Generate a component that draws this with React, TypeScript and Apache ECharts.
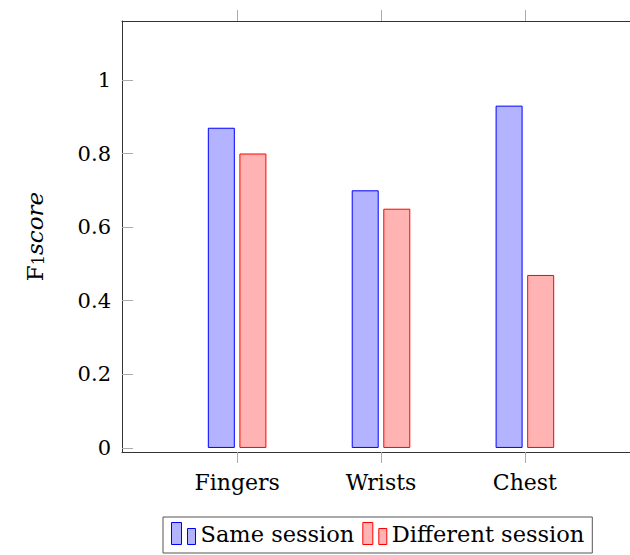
import React, { useEffect, useRef } from "react";
import * as echarts from "echarts";

const categories = ["Fingers", "Wrists", "Chest"];
const catPositions = [1, 2, 3];
const sameSession = [0.87, 0.7, 0.93];
const differentSession = [0.8, 0.65, 0.47];
const yTicks = [0, 0.2, 0.4, 0.6, 0.8, 1];
const seriesNames = ["Same session", "Different session"];

const FONT = "DejaVu Serif";
const legendIcon = "path://M0,0 H10 V22 H0 Z M16,6 H24 V22 H16 Z";

export default function App() {
  const ref = useRef<HTMLDivElement>(null);
  useEffect(() => {
    if (!ref.current) return;
    const chart = echarts.init(ref.current, null, { renderer: "svg" });
    const xBase = {
      type: "value" as const,
      min: 0.2,
      max: 3.8,
      splitLine: { show: false },
      axisLine: { show: true, onZero: false, lineStyle: { color: "#333", width: 1 } },
    };
    const yBase = {
      type: "value" as const,
      min: -0.011,
      max: 1.16,
      splitLine: { show: false },
      axisLine: { show: true, onZero: false, lineStyle: { color: "#333", width: 1 } },
    };
    chart.setOption({
      animation: false,
      backgroundColor: "#fff",
      textStyle: { fontFamily: FONT },
      grid: { left: 122, top: 21, width: 518, height: 431, outerBoundsMode: "none", containLabel: false },
      xAxis: [
        {
          ...xBase,
          position: "bottom",
          axisTick: { show: true, inside: false, length: 11, customValues: catPositions, lineStyle: { color: "#aaa" } },
          axisLabel: {
            show: true,
            customValues: catPositions,
            margin: 19,
            fontFamily: FONT,
            fontSize: 22,
            color: "#000",
            formatter: (v: number) => categories[catPositions.indexOf(Math.round(v))] ?? "",
          },
        },
        {
          ...xBase,
          position: "top",
          axisTick: { show: true, inside: false, length: 11, customValues: catPositions, lineStyle: { color: "#aaa" } },
          axisLabel: { show: false },
        },
      ],
      yAxis: [
        {
          ...yBase,
          position: "left",
          axisTick: { show: true, inside: true, length: 11, customValues: yTicks, lineStyle: { color: "#aaa" } },
          axisLabel: {
            show: true,
            customValues: yTicks,
            margin: 11,
            fontFamily: FONT,
            fontSize: 21,
            color: "#000",
            formatter: (v: number) => String(Math.round(v * 10) / 10),
          },
          name: "{a|F}{b|1}{c|score}",
          nameLocation: "middle",
          nameRotate: 90,
          nameGap: 76,
          nameTextStyle: {
            rich: {
              a: { fontFamily: FONT, fontSize: 23, color: "#000", verticalAlign: "bottom", lineHeight: 26 },
              b: { fontFamily: FONT, fontSize: 16, color: "#000", verticalAlign: "bottom", lineHeight: 20 },
              c: { fontFamily: FONT, fontSize: 23, fontStyle: "italic", color: "#000", verticalAlign: "bottom", lineHeight: 26 },
            },
          },
        },
        {
          ...yBase,
          position: "right",
          axisLine: { show: true, onZero: false, lineStyle: { color: "#333", width: 1 } },
          axisTick: { show: false },
          axisLabel: { show: false },
        },
      ],
      legend: {
        show: true,
        left: 163,
        top: 517,
        orient: "horizontal",
        padding: [5, 8, 8, 8],
        borderColor: "#555",
        borderWidth: 1,
        itemWidth: 24,
        itemHeight: 22,
        itemGap: 8,
        textStyle: { fontFamily: FONT, fontSize: 22.5, color: "#000", padding: [3, 0, 0, 0] },
        data: [
          { name: seriesNames[0], icon: legendIcon, itemStyle: { color: "#b3b3ff", borderColor: "#0000ff", borderWidth: 1 } },
          { name: seriesNames[1], icon: legendIcon, itemStyle: { color: "#ffb3b3", borderColor: "#ff0000", borderWidth: 1 } },
        ],
      },
      series: [
        {
          name: seriesNames[0],
          type: "bar",
          barWidth: 27,
          barGap: "17%",
          data: catPositions.map((x, i) => [x, sameSession[i]]),
          itemStyle: { color: "#b3b3ff", borderColor: "#0000ff", borderWidth: 1 },
        },
        {
          name: seriesNames[1],
          type: "bar",
          barWidth: 27,
          barGap: "17%",
          data: catPositions.map((x, i) => [x, differentSession[i]]),
          itemStyle: { color: "#ffb3b3", borderColor: "#ff0000", borderWidth: 1 },
        },
      ],
    });
    return () => chart.dispose();
  }, []);
  return (
    <div style={{ position: "absolute", left: 0, top: 0, width: 630, height: 555, overflow: "hidden" }}>
      <div ref={ref} style={{ width: 680, height: 555 }} />
    </div>
  );
}
